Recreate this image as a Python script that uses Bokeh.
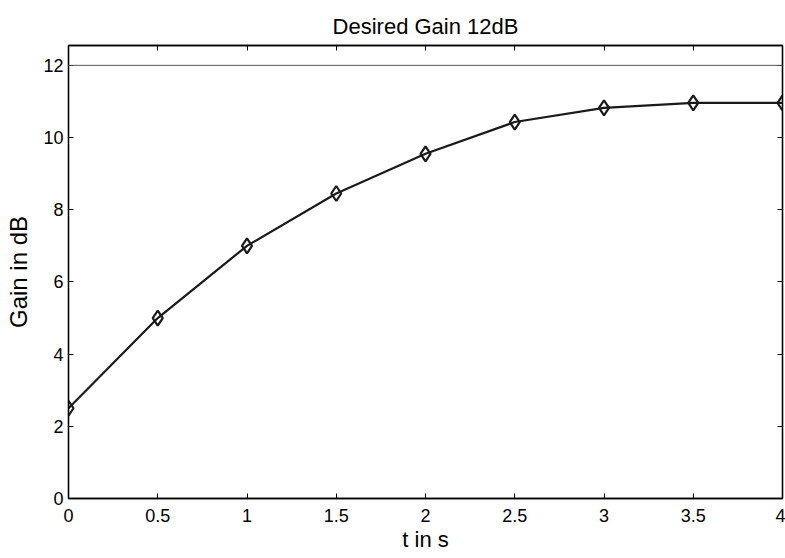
from bokeh.plotting import figure
from bokeh.models import Range1d, LinearAxis, FixedTicker, Span, CustomJSTickFormatter
from bokeh.embed import file_html
from bokeh.resources import INLINE

t = [0, 0.5, 1, 1.5, 2, 2.5, 3, 3.5, 4]
gain = [2.5, 5.0, 7.0, 8.45, 9.55, 10.43, 10.82, 10.96, 10.96]
desired = 12
x_ticks = [0, 0.5, 1, 1.5, 2, 2.5, 3, 3.5, 4]
y_ticks = [0, 2, 4, 6, 8, 10, 12]

FONT = "Liberation Sans"

p = figure(width=785, height=558, output_backend="svg", toolbar_location=None,
           x_range=Range1d(0, 4), y_range=Range1d(0, 12.55),
           min_border_left=68, min_border_right=3, min_border_top=45, min_border_bottom=60,
           x_axis_label="t in s", y_axis_label="Gain in dB")
p.title.text = "Desired Gain 12dB"
p.title.align = "center"
p.title.text_font = FONT
p.title.text_font_size = "22px"
p.title.text_font_style = "normal"
p.title.text_color = "black"
p.title.standoff = 14

p.grid.visible = False
p.outline_line_color = "black"
p.outline_line_width = 1.3
p.background_fill_color = "white"
p.border_fill_color = "white"

for ax in [p.xaxis[0], p.yaxis[0]]:
    ax.major_tick_in = 5
    ax.major_tick_out = 0
    ax.minor_tick_in = 0
    ax.minor_tick_out = 0
    ax.axis_line_color = "black"
    ax.axis_line_width = 1.3
    ax.major_tick_line_color = "black"
    ax.major_label_text_font = FONT
    ax.major_label_text_font_size = "18px"
    ax.major_label_text_color = "black"
    ax.axis_label_text_font = FONT
    ax.axis_label_text_font_style = "normal"
    ax.axis_label_text_color = "black"

p.xaxis[0].axis_label_text_font_size = "22px"
p.yaxis[0].axis_label_text_font_size = "24px"
p.xaxis[0].ticker = FixedTicker(ticks=x_ticks)
p.yaxis[0].ticker = FixedTicker(ticks=y_ticks)
p.xaxis[0].major_label_standoff = 10
p.xaxis[0].axis_label_standoff = 2
p.yaxis[0].major_label_standoff = 5
p.yaxis[0].axis_label_standoff = 8

blank = CustomJSTickFormatter(code="return '';")
top = LinearAxis(ticker=FixedTicker(ticks=x_ticks), formatter=blank,
                 major_tick_in=5, major_tick_out=0, minor_tick_in=0, minor_tick_out=0,
                 major_label_standoff=0, major_label_text_font_size="1px",
                 axis_line_color="black", axis_line_width=1.3)
right = LinearAxis(ticker=FixedTicker(ticks=y_ticks), formatter=blank,
                   major_tick_in=5, major_tick_out=0, minor_tick_in=0, minor_tick_out=0,
                   major_label_standoff=0, major_label_text_font_size="1px",
                   axis_line_color="black", axis_line_width=1.3)
p.add_layout(top, "above")
p.add_layout(right, "right")

p.add_layout(Span(location=desired, dimension="width", line_color="#555555", line_width=1))

p.line(t, gain, line_color="#1a1a1a", line_width=2.2)
p.scatter(t, gain, marker="diamond", size=15, line_color="#1a1a1a", line_width=2.2,
          fill_color="white", fill_alpha=0)

open("out.html", "w").write(file_html(p, INLINE))
